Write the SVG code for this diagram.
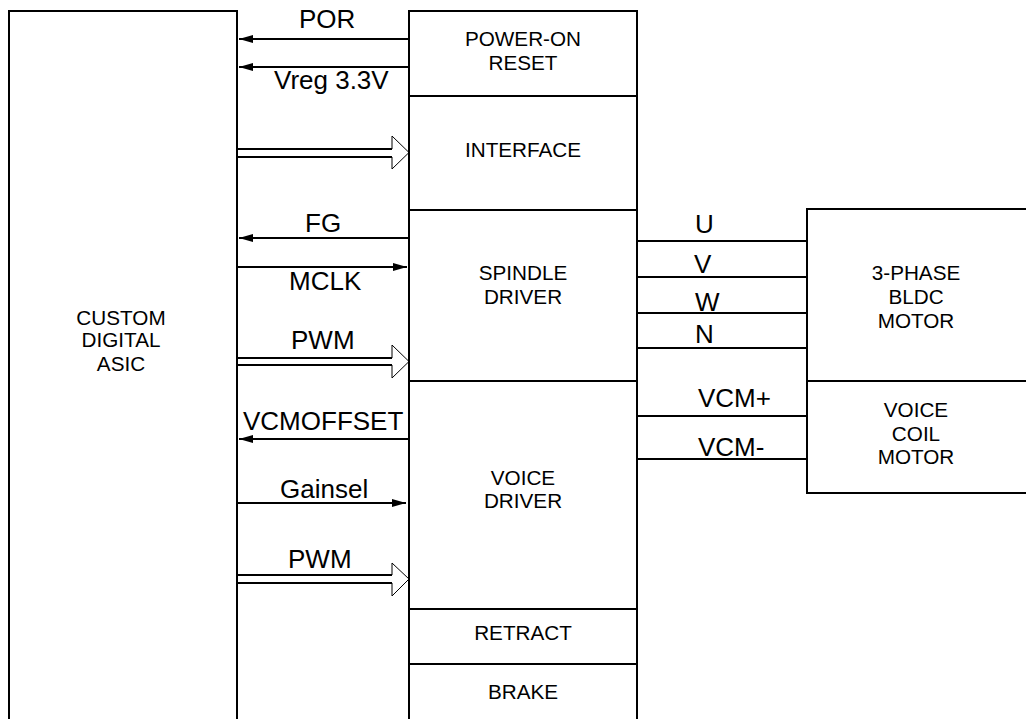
<svg xmlns="http://www.w3.org/2000/svg" width="1026" height="719" viewBox="0 0 1026 719">
<style>
.box{fill:none;stroke:#000;stroke-width:2}
.blk{font-family:"Liberation Sans",Arial,sans-serif;font-size:20.7px;text-anchor:middle;fill:#000}
.sig{font-family:"Liberation Sans",Arial,sans-serif;font-size:26px;fill:#000}
.w{stroke:#000;stroke-width:2;fill:none}
.head{stroke:#000;stroke-width:1;fill:none}
</style>
<defs>
<marker id="ah" viewBox="0 0 14 8" refX="14" refY="4" markerWidth="14" markerHeight="8" markerUnits="userSpaceOnUse" orient="auto">
<path d="M0,0 L14,4 L0,8 z" fill="#000"/>
</marker>
</defs>
<rect width="1026" height="719" fill="#fff"/>
<g id="asic">
<rect class="box" x="9" y="11" width="228" height="720"/>
<text class="blk" x="121" y="325">CUSTOM</text>
<text class="blk" x="121" y="347">DIGITAL</text>
<text class="blk" x="121" y="371">ASIC</text>
</g>
<g id="por">
<rect class="box" x="409" y="11" width="228" height="85"/>
<text class="blk" x="523" y="46">POWER-ON</text>
<text class="blk" x="523" y="70">RESET</text>
</g>
<g id="interface">
<rect class="box" x="409" y="96" width="228" height="114"/>
<text class="blk" x="523" y="157">INTERFACE</text>
</g>
<g id="spindle">
<rect class="box" x="409" y="210" width="228" height="171"/>
<text class="blk" x="523" y="280">SPINDLE</text>
<text class="blk" x="523" y="304">DRIVER</text>
</g>
<g id="voice">
<rect class="box" x="409" y="381" width="228" height="228"/>
<text class="blk" x="523" y="485">VOICE</text>
<text class="blk" x="523" y="508">DRIVER</text>
</g>
<g id="retract">
<rect class="box" x="409" y="609" width="228" height="55"/>
<text class="blk" x="523" y="640">RETRACT</text>
</g>
<g id="brake">
<rect class="box" x="409" y="664" width="228" height="70"/>
<text class="blk" x="523" y="699">BRAKE</text>
</g>
<g id="bldc">
<rect class="box" x="807" y="209" width="240" height="172"/>
<text class="blk" x="916" y="280">3-PHASE</text>
<text class="blk" x="916" y="304">BLDC</text>
<text class="blk" x="916" y="328">MOTOR</text>
</g>
<g id="vcm">
<rect class="box" x="807" y="381" width="240" height="112"/>
<text class="blk" x="916" y="417">VOICE</text>
<text class="blk" x="916" y="441">COIL</text>
<text class="blk" x="916" y="464">MOTOR</text>
</g>
<g id="connectors">
<line class="w" x1="409" y1="39" x2="239" y2="39" marker-end="url(#ah)"/>
<line class="w" x1="409" y1="67" x2="239" y2="67" marker-end="url(#ah)"/>
<path class="w" d="M237,149 H392 M237,157 H392"/>
<path class="head" d="M392,149 V136 L409,152.5 L392,169 V157"/>
<line class="w" x1="409" y1="238" x2="239" y2="238" marker-end="url(#ah)"/>
<line class="w" x1="237" y1="267" x2="407" y2="267" marker-end="url(#ah)"/>
<path class="w" d="M237,358 H392 M237,365 H392"/>
<path class="head" d="M392,358 V345 L409,361.5 L392,378 V365"/>
<line class="w" x1="409" y1="439" x2="239" y2="439" marker-end="url(#ah)"/>
<line class="w" x1="237" y1="503" x2="406" y2="503" marker-end="url(#ah)"/>
<path class="w" d="M237,575 H392 M237,583 H392"/>
<path class="head" d="M392,575 V563 L409,579 L392,596 V583"/>
<path class="w" d="M637,241 H807 M637,277 H807 M637,313 H807 M637,348 H807 M637,416 H807 M637,459 H807"/>
<text class="sig" x="299" y="28">POR</text>
<text class="sig" x="274" y="89">Vreg 3.3V</text>
<text class="sig" x="305" y="232">FG</text>
<text class="sig" x="289" y="290">MCLK</text>
<text class="sig" x="291" y="349">PWM</text>
<text class="sig" x="243" y="430">VCMOFFSET</text>
<text class="sig" x="280" y="498">Gainsel</text>
<text class="sig" x="288" y="568">PWM</text>
<text class="sig" x="695" y="233">U</text>
<text class="sig" x="694" y="273">V</text>
<text class="sig" x="695" y="311">W</text>
<text class="sig" x="695" y="343">N</text>
<text class="sig" x="698" y="407">VCM+</text>
<text class="sig" x="698" y="456">VCM-</text>
</g>
</svg>
